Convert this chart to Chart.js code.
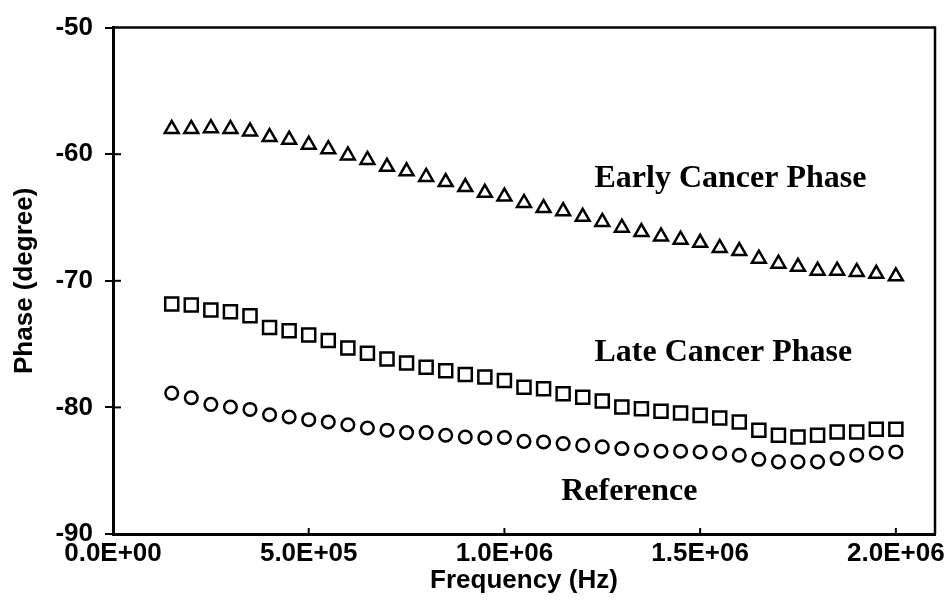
<!DOCTYPE html>
<html>
<head>
<meta charset="utf-8">
<script src="https://cdn.jsdelivr.net/npm/chart.js@4.4.1/dist/chart.umd.min.js"></script>
<style>
  html, body { margin: 0; padding: 0; background: #fff; }
  #wrap { width: 950px; height: 608px; }
</style>
</head>
<body>
<div id="wrap"><canvas id="chart" width="950" height="608"></canvas></div>
<script>
'use strict';

// ---- data ----
const freqHz = [
  150000, 200000, 250000, 300000, 350000, 400000, 450000, 500000, 550000, 600000,
  650000, 700000, 750000, 800000, 850000, 900000, 950000, 1000000, 1050000, 1100000,
  1150000, 1200000, 1250000, 1300000, 1350000, 1400000, 1450000, 1500000, 1550000, 1600000,
  1650000, 1700000, 1750000, 1800000, 1850000, 1900000, 1950000, 2000000
];

const earlyPhase = [
  -58.0, -58.0, -57.95, -58.0, -58.2, -58.65, -58.85, -59.25, -59.6, -60.1,
  -60.45, -61.0, -61.35, -61.8, -62.2, -62.6, -63.05, -63.35, -63.85, -64.25,
  -64.5, -64.95, -65.35, -65.8, -66.15, -66.5, -66.75, -67.0, -67.4, -67.65,
  -68.25, -68.65, -68.9, -69.2, -69.2, -69.3, -69.45, -69.65
];

const latePhase = [
  -71.84, -71.92, -72.3, -72.44, -72.76, -73.68, -73.94, -74.28, -74.72, -75.3,
  -75.72, -76.17, -76.5, -76.83, -77.1, -77.4, -77.6, -77.87, -78.4, -78.53,
  -78.93, -79.19, -79.5, -79.97, -80.1, -80.3, -80.45, -80.63, -80.84, -81.15,
  -81.8, -82.2, -82.34, -82.2, -81.94, -81.94, -81.73, -81.73
];

const referencePhase = [
  -78.87, -79.24, -79.76, -79.97, -80.16, -80.58, -80.76, -80.97, -81.15, -81.37,
  -81.63, -81.8, -81.99, -81.99, -82.2, -82.34, -82.41, -82.38, -82.68, -82.73,
  -82.86, -83.0, -83.12, -83.25, -83.39, -83.46, -83.46, -83.52, -83.6, -83.78,
  -84.1, -84.3, -84.3, -84.3, -84.04, -83.78, -83.6, -83.52
];

const xTickValues = [0, 500000, 1000000, 1500000, 2000000];
const xTickLabels = ['0.0E+00', '5.0E+05', '1.0E+06', '1.5E+06', '2.0E+06'];
const yTickValues = [-90, -80, -70, -60, -50];

// series labels placed in data space: [text, x (Hz), y (degree)]
const seriesNotes = [
  ['Early Cancer Phase', 1230000, -61.97],
  ['Late Cancer Phase', 1230000, -75.67],
  ['Reference', 1145000, -86.7]
];

function toPoints(ys) {
  return freqHz.map((f, i) => ({ x: f, y: ys[i] }));
}

// frame, inner tick marks and the text notes
const framePlugin = {
  id: 'frame',
  afterDraw(chart) {
    const { ctx, chartArea: a, scales } = chart;
    ctx.save();
    ctx.strokeStyle = '#000';

    // top + right edges of the box
    ctx.lineWidth = 2.5;
    ctx.beginPath();
    ctx.moveTo(a.left, a.top);
    ctx.lineTo(a.right, a.top);
    ctx.lineTo(a.right, a.bottom);
    ctx.stroke();

    // inner halves of the y ticks
    ctx.lineWidth = 2;
    [-80, -70, -60].forEach(v => {
      const y = scales.y.getPixelForValue(v);
      ctx.beginPath();
      ctx.moveTo(a.left, y);
      ctx.lineTo(a.left + 8, y);
      ctx.stroke();
    });

    // x ticks point inward
    xTickValues.slice(1).forEach(v => {
      const x = scales.x.getPixelForValue(v);
      ctx.beginPath();
      ctx.moveTo(x, a.bottom);
      ctx.lineTo(x, a.bottom - 6);
      ctx.stroke();
    });

    // series names
    ctx.fillStyle = '#000';
    ctx.font = 'bold 32px "Liberation Serif", "Times New Roman", serif';
    ctx.textAlign = 'left';
    ctx.textBaseline = 'middle';
    seriesNotes.forEach(([txt, fx, fy]) => {
      ctx.fillText(txt, scales.x.getPixelForValue(fx), scales.y.getPixelForValue(fy));
    });
    ctx.restore();
  }
};

const tickFont = { family: '"Liberation Sans", Arial, sans-serif', size: 26, weight: 'bold' };

new Chart(document.getElementById('chart'), {
  type: 'scatter',
  data: {
    datasets: [
      {
        label: 'Early Cancer Phase',
        data: toPoints(earlyPhase),
        pointStyle: 'triangle',
        pointRadius: 8,
        borderColor: '#000',
        backgroundColor: 'rgba(0,0,0,0)',
        borderWidth: 2.5,
      },
      {
        label: 'Late Cancer Phase',
        data: toPoints(latePhase),
        pointStyle: 'rect',
        pointRadius: 9.2,
        borderColor: '#000',
        backgroundColor: 'rgba(0,0,0,0)',
        borderWidth: 2.5,
      },
      {
        label: 'Reference',
        data: toPoints(referencePhase),
        pointStyle: 'circle',
        pointRadius: 6.3,
        borderColor: '#000',
        backgroundColor: 'rgba(0,0,0,0)',
        borderWidth: 2.5,
      },
    ],
  },
  options: {
    responsive: false,
    animation: false,
    devicePixelRatio: 1,
    layout: { padding: { top: 26, right: 15, left: 0, bottom: 0 } },
    plugins: {
      legend: { display: false },
      tooltip: { enabled: false },
    },
    scales: {
      x: {
        type: 'linear',
        min: 0,
        max: 2100000,
        afterBuildTicks: s => { s.ticks = xTickValues.map(v => ({ value: v })); },
        afterFit: s => { s.height = 74; },
        ticks: {
          callback: (v, i) => xTickLabels[i],
          color: '#000',
          font: tickFont,
          padding: 4,
          maxRotation: 0,
          autoSkip: false,
        },
        grid: { drawOnChartArea: false, drawTicks: false },
        border: { display: true, color: '#000', width: 3 },
        title: {
          display: true,
          text: 'Frequency (Hz)',
          color: '#000',
          font: tickFont,
          padding: { top: 4, bottom: 12 },
        },
      },
      y: {
        type: 'linear',
        min: -90,
        max: -50,
        afterBuildTicks: s => { s.ticks = yTickValues.map(v => ({ value: v })); },
        afterFit: s => { s.width = 113; },
        ticks: {
          color: '#000',
          font: tickFont,
          padding: 12,
        },
        grid: {
          drawOnChartArea: false,
          drawTicks: true,
          tickLength: 8,
          color: '#000',
          lineWidth: 2,
        },
        border: { display: true, color: '#000', width: 3 },
        title: {
          display: true,
          text: 'Phase (degree)',
          color: '#000',
          font: tickFont,
          padding: { top: 9, bottom: 0 },
        },
      },
    },
  },
  plugins: [framePlugin],
});
</script>
</body>
</html>
